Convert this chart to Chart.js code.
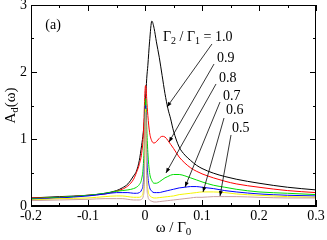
<!DOCTYPE html>
<html><head><meta charset="utf-8">
<script src="https://cdn.jsdelivr.net/npm/chart.js@4/dist/chart.umd.min.js"></script>
<style>html,body{margin:0;padding:0;background:#fff}#c{display:block}</style>
</head><body>
<canvas id="c" width="327" height="240"></canvas>
<script>
// ---- data ----
const omega = [-0.2,-0.15,-0.1,-0.07,-0.05,-0.04,-0.03,-0.02,-0.015,-0.01,-0.006,-0.003,-0.001,0,0.001,0.002,0.003,0.005,0.008,0.012,0.016,0.02,0.025,0.03,0.035,0.04,0.045,0.05,0.06,0.07,0.08,0.09,0.1,0.12,0.14,0.16,0.2,0.25,0.3];
const ratio10 = [0.12,0.14,0.16,0.19,0.23,0.27,0.33,0.45,0.52,0.68,0.9,1.1,1.3,1.45,1.6,1.75,1.9,2.1,2.45,2.76,2.65,2.45,2.22,1.95,1.68,1.46,1.3,1.12,0.88,0.76,0.68,0.61,0.56,0.49,0.44,0.4,0.34,0.28,0.24];
const ratio09 = [0.12,0.13,0.16,0.18,0.22,0.25,0.3,0.4,0.5,0.62,0.78,1.05,1.5,1.72,1.8,1.75,1.6,1.35,1.1,0.97,0.94,0.96,1.01,1.04,1.03,0.98,0.92,0.86,0.73,0.64,0.57,0.52,0.48,0.42,0.37,0.33,0.28,0.23,0.2];
const ratio08 = [0.11,0.13,0.16,0.19,0.22,0.23,0.24,0.26,0.28,0.32,0.4,0.6,1.0,1.4,1.6,1.5,1.2,0.8,0.5,0.38,0.34,0.34,0.36,0.39,0.42,0.44,0.46,0.47,0.47,0.45,0.42,0.39,0.36,0.31,0.28,0.25,0.21,0.19,0.17];
const ratio07 = [0.1,0.12,0.15,0.18,0.2,0.2,0.2,0.19,0.19,0.2,0.24,0.35,0.7,1.3,1.5,1.3,0.8,0.45,0.28,0.22,0.2,0.2,0.2,0.21,0.22,0.23,0.24,0.25,0.27,0.28,0.29,0.29,0.28,0.26,0.23,0.21,0.18,0.16,0.15];
const ratio06 = [0.09,0.11,0.12,0.14,0.15,0.15,0.14,0.13,0.13,0.13,0.15,0.22,0.5,1.2,1.45,1.1,0.5,0.25,0.16,0.13,0.12,0.12,0.125,0.13,0.135,0.14,0.145,0.15,0.17,0.18,0.19,0.2,0.21,0.21,0.2,0.18,0.16,0.14,0.13];
const ratio05 = [0.08,0.09,0.1,0.11,0.11,0.11,0.1,0.09,0.09,0.09,0.1,0.15,0.4,1.1,1.4,1.0,0.4,0.15,0.09,0.07,0.06,0.06,0.065,0.07,0.075,0.08,0.085,0.09,0.1,0.11,0.12,0.13,0.13,0.14,0.14,0.14,0.13,0.12,0.12];
const seriesNames = ['1.0','0.9','0.8','0.7','0.6','0.5'];
const xTicks = [-0.2,-0.1,0,0.1,0.2,0.3];
const yTicks = [0,1,2,3];

// ---- styling / annotation layout ----
const colors = ['#000000','#ff0000','#00dd00','#0000ff','#f5f500','#c8a0a0'];
const SERIF = '"Liberation Serif", "DejaVu Serif", serif';
const labelPos = { '0.9':[0.1263,2.20], '0.8':[0.1298,1.91], '0.7':[0.1368,1.634], '0.6':[0.1421,1.433], '0.5':[0.1526,1.164] };
const arrows = [
  [[0.1175,2.418],[0.0386,1.478]],
  [[0.1211,2.119],[0.0421,0.955]],
  [[0.1246,1.821],[0.0368,0.493]],
  [[0.1316,1.552],[0.0702,0.284]],
  [[0.1386,1.313],[0.1018,0.209]],
  [[0.1509,1.060],[0.1316,0.149]]
];
const panelPos = [-0.175, 2.70];
const legendPos = [0.0316, 2.463];

const allSeries = [ratio10,ratio09,ratio08,ratio07,ratio06,ratio05];
const datasets = allSeries.map((arr,i)=>({
  label: seriesNames[i],
  data: omega.map((x,j)=>({x:x,y:arr[j]})),
  borderColor: colors[i], borderWidth: 1, pointRadius: 0,
  cubicInterpolationMode: 'monotone', fill:false
})).reverse();

function drawRich(ctx, x, y, parts, big, small) {
  let cx = x;
  for (const [t, sub] of parts) {
    ctx.font = (sub ? small : big) + 'px ' + SERIF;
    ctx.fillText(t, cx, y + (sub ? 3 : 0));
    cx += ctx.measureText(t).width;
  }
  return cx - x;
}
function richWidth(ctx, parts, big, small) {
  let w = 0;
  for (const [t, sub] of parts) { ctx.font = (sub ? small : big) + 'px ' + SERIF; w += ctx.measureText(t).width; }
  return w;
}

const decor = {
  id: 'decor',
  afterDraw(chart) {
    const ctx = chart.ctx, ca = chart.chartArea, xs = chart.scales.x, ys = chart.scales.y;
    ctx.save();
    ctx.strokeStyle = '#000'; ctx.lineWidth = 1;
    ctx.strokeRect(Math.round(ca.left)+0.5, Math.round(ca.top)+0.5, Math.round(ca.right-ca.left)-1, Math.round(ca.bottom-ca.top)-1);
    ctx.beginPath();
    for (let v = -0.2; v <= 0.3001; v += 0.05) {
      const major = Math.abs(Math.round(v*10) - v*10) < 1e-6;
      const len = major ? 6 : 3;
      const px = Math.round(xs.getPixelForValue(v)) + 0.5;
      ctx.moveTo(px, ca.bottom); ctx.lineTo(px, ca.bottom - len);
      ctx.moveTo(px, ca.top); ctx.lineTo(px, ca.top + len);
    }
    for (let v = 0; v <= 3.001; v += 0.5) {
      const major = Math.abs(Math.round(v) - v) < 1e-6;
      const len = major ? 6 : 3;
      const py = Math.round(ys.getPixelForValue(v)) + 0.5;
      ctx.moveTo(ca.left, py); ctx.lineTo(ca.left + len, py);
      ctx.moveTo(ca.right, py); ctx.lineTo(ca.right - len, py);
    }
    ctx.stroke();

    ctx.fillStyle = '#000';
    for (const [s, e] of arrows) {
      const x1 = xs.getPixelForValue(s[0]), y1 = ys.getPixelForValue(s[1]);
      const x2 = xs.getPixelForValue(e[0]), y2 = ys.getPixelForValue(e[1]);
      ctx.beginPath(); ctx.moveTo(x1,y1); ctx.lineTo(x2,y2); ctx.lineWidth = 0.8; ctx.stroke();
      const a = Math.atan2(y2-y1, x2-x1), L = 5, W = 2;
      ctx.beginPath();
      ctx.moveTo(x2, y2);
      ctx.lineTo(x2 - L*Math.cos(a) + W*Math.sin(a), y2 - L*Math.sin(a) - W*Math.cos(a));
      ctx.lineTo(x2 - L*Math.cos(a) - W*Math.sin(a), y2 - L*Math.sin(a) + W*Math.cos(a));
      ctx.closePath(); ctx.fill();
    }

    ctx.fillStyle = '#000';
    ctx.textBaseline = 'middle'; ctx.textAlign = 'left';
    ctx.font = '14px ' + SERIF;
    ctx.fillText('(a)', xs.getPixelForValue(panelPos[0]), ys.getPixelForValue(panelPos[1]));
    for (const k of Object.keys(labelPos)) {
      ctx.fillText(k, xs.getPixelForValue(labelPos[k][0]), ys.getPixelForValue(labelPos[k][1]));
    }
    ctx.textBaseline = 'alphabetic';
    drawRich(ctx, xs.getPixelForValue(legendPos[0]), ys.getPixelForValue(legendPos[1]),
      [['Γ',0],['2',1],[' / Γ',0],['1',1],[' = 1.0',0]], 14, 10);

    const xt = [['ω / Γ',0],['0',1]];
    const wx = richWidth(ctx, xt, 15, 11);
    drawRich(ctx, (ca.left+ca.right)/2 - wx/2, 232, xt, 15, 11);
    const yt = [['A',0],['d',1],['(ω)',0]];
    const wy = richWidth(ctx, yt, 15, 11);
    ctx.translate(15, (ca.top+ca.bottom)/2);
    ctx.rotate(-Math.PI/2);
    drawRich(ctx, -wy/2, 0, yt, 15, 11);
    ctx.restore();
  }
};

new Chart(document.getElementById('c'), {
  type: 'line',
  data: { datasets },
  options: {
    responsive: false, animation: false, devicePixelRatio: 1,
    layout: { padding: { top: 5, right: 11, left: 0, bottom: 0 } },
    plugins: { legend: { display: false }, tooltip: { enabled: false } },
    scales: {
      x: {
        type: 'linear', min: -0.2, max: 0.3,
        afterBuildTicks(s){ s.ticks = xTicks.map(v=>({value:v})); },
        afterFit(s){ s.height = 34; s.paddingLeft = 0; s.paddingRight = 0; },
        grid: { display: true, drawOnChartArea: false, drawTicks: false, color:'#000' },
        border: { display: true, color: '#000' },
        ticks: { color:'#000', padding: 2, maxRotation: 0, autoSkip: false,
          font: { family: SERIF, size: 14 },
          callback: v => (Math.abs(v) < 1e-9 ? '0' : String(Math.round(v*10)/10)) }
      },
      y: {
        type: 'linear', min: 0, max: 3,
        afterBuildTicks(s){ s.ticks = yTicks.map(v=>({value:v})); },
        afterFit(s){ s.width = 31; s.paddingTop = 0; s.paddingBottom = 0; },
        grid: { display: true, drawOnChartArea: false, drawTicks: false, color:'#000' },
        border: { display: true, color: '#000' },
        ticks: { color:'#000', padding: 4, font: { family: SERIF, size: 14 } }
      }
    }
  },
  plugins: [decor]
});
</script>
</body></html>
